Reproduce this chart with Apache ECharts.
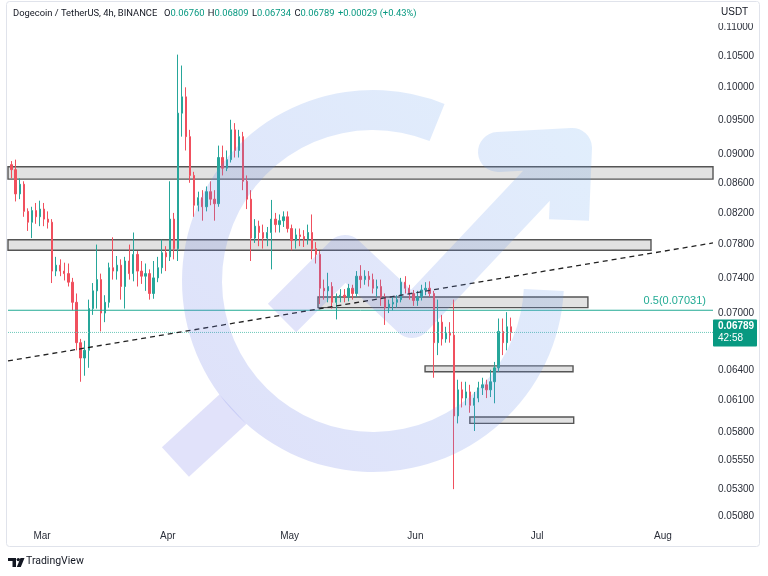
<!DOCTYPE html>
<html><head><meta charset="utf-8">
<script src="https://cdn.jsdelivr.net/npm/echarts@6/dist/echarts.min.js"></script>
<style>html,body{margin:0;padding:0;background:#fff}#c{width:768px;height:576px}</style>
</head><body><div id="c"></div>
<script>
// ---- data (daily candles) ----
const dates = [
'2023-02-21','2023-02-22','2023-02-23','2023-02-24','2023-02-25','2023-02-26','2023-02-27','2023-02-28',
'2023-03-01','2023-03-02','2023-03-03','2023-03-04','2023-03-05','2023-03-06','2023-03-07','2023-03-08','2023-03-09','2023-03-10',
'2023-03-11','2023-03-12','2023-03-13','2023-03-14','2023-03-15','2023-03-16','2023-03-17','2023-03-18','2023-03-19','2023-03-20',
'2023-03-21','2023-03-22','2023-03-23','2023-03-24','2023-03-25','2023-03-26','2023-03-27','2023-03-28','2023-03-29','2023-03-30','2023-03-31',
'2023-04-01','2023-04-02','2023-04-03','2023-04-04','2023-04-05','2023-04-06','2023-04-07','2023-04-08','2023-04-09','2023-04-10',
'2023-04-11','2023-04-12','2023-04-13','2023-04-14','2023-04-15','2023-04-16','2023-04-17','2023-04-18','2023-04-19','2023-04-20',
'2023-04-21','2023-04-22','2023-04-23','2023-04-24','2023-04-25','2023-04-26','2023-04-27','2023-04-28','2023-04-29','2023-04-30',
'2023-05-01','2023-05-02','2023-05-03','2023-05-04','2023-05-05','2023-05-06','2023-05-07','2023-05-08','2023-05-09','2023-05-10',
'2023-05-11','2023-05-12','2023-05-13','2023-05-14','2023-05-15','2023-05-16','2023-05-17','2023-05-18','2023-05-19','2023-05-20',
'2023-05-21','2023-05-22','2023-05-23','2023-05-24','2023-05-25','2023-05-26','2023-05-27','2023-05-28','2023-05-29','2023-05-30','2023-05-31',
'2023-06-01','2023-06-02','2023-06-03','2023-06-04','2023-06-05','2023-06-06','2023-06-07','2023-06-08','2023-06-09','2023-06-10',
'2023-06-11','2023-06-12','2023-06-13','2023-06-14','2023-06-15','2023-06-16','2023-06-17','2023-06-18','2023-06-19','2023-06-20',
'2023-06-21','2023-06-22','2023-06-23','2023-06-24'];
const open = [
.0885,.0878,.0845,.0858,.0822,.0808,.0823,.0815,
.0825,.0812,.0808,.0748,.0755,.0748,.0745,.0735,.0712,.0668,
.0652,.0660,.0705,.0725,.0738,.0700,.0712,.0752,.0748,.0755,
.0730,.0760,.0745,.0768,.0748,.0742,.0745,.0722,.0740,.0752,.0770,
.0765,.0812,.0775,.0960,.0985,.0925,.0870,.0830,.0840,.0828,
.0848,.0838,.0832,.0895,.0880,.0892,.0935,.0905,.0925,.0862,
.0838,.0788,.0803,.0795,.0788,.0795,.0812,.0805,.0810,.0815,
.0800,.0785,.0792,.0790,.0787,.0795,.0775,.0768,.0728,.0725,
.0730,.0712,.0718,.0720,.0718,.0728,.0722,.0742,.0738,.0742,
.0738,.0728,.0730,.0718,.0706,.0710,.0712,.0715,.0735,.0728,.0722,
.0714,.0718,.0726,.0728,.0722,.0668,.0690,.0672,.0678,.0676,
.0595,.0620,.0612,.0618,.0605,.0612,.0622,.0625,.0620,.0628,
.0642,.0680,.0668,.0685];
const close = [
.0878,.0845,.0858,.0822,.0808,.0823,.0815,.0825,
.0812,.0808,.0748,.0755,.0748,.0745,.0735,.0712,.0668,.0652,
.0660,.0705,.0725,.0738,.0700,.0712,.0752,.0748,.0755,.0730,
.0760,.0745,.0768,.0748,.0742,.0745,.0722,.0740,.0752,.0770,.0765,
.0812,.0775,.0960,.0985,.0925,.0870,.0830,.0840,.0828,.0848,
.0838,.0832,.0895,.0880,.0892,.0935,.0905,.0925,.0862,.0838,
.0788,.0803,.0795,.0788,.0795,.0812,.0805,.0810,.0815,.0800,
.0785,.0792,.0790,.0787,.0795,.0775,.0768,.0728,.0725,.0730,
.0712,.0718,.0720,.0718,.0728,.0722,.0742,.0738,.0742,.0738,
.0728,.0730,.0718,.0706,.0710,.0712,.0715,.0735,.0728,.0722,.0714,
.0718,.0726,.0728,.0722,.0668,.0690,.0672,.0678,.0676,.0595,
.0620,.0612,.0618,.0605,.0612,.0622,.0625,.0620,.0628,.0642,
.0680,.0668,.0685,.06789];
const low = [
.0866,.0835,.0838,.0815,.0797,.0788,.0806,.0803,
.0803,.0800,.0734,.0742,.0742,.0737,.0730,.0703,.0660,.0628,
.0634,.0642,.0698,.0705,.0680,.0690,.0706,.0738,.0738,.0715,
.0705,.0738,.0736,.0730,.0733,.0725,.0715,.0716,.0735,.0745,.0748,
.0760,.0762,.0760,.0925,.0905,.0860,.0815,.0822,.0810,.0822,
.0830,.0810,.0828,.0870,.0876,.0888,.0895,.0895,.0850,.0825,
.0760,.0782,.0778,.0775,.0778,.0750,.0795,.0795,.0802,.0795,
.0773,.0775,.0778,.0777,.0780,.0762,.0757,.0710,.0715,.0712,
.0705,.0693,.0712,.0712,.0713,.0715,.0718,.0728,.0732,.0730,
.0722,.0718,.0708,.0687,.0700,.0703,.0706,.0712,.0722,.0715,.0708,
.0708,.0714,.0720,.0718,.0632,.0655,.0665,.0668,.0668,.0530,
.0588,.0603,.0605,.0598,.0581,.0608,.0615,.0612,.0613,.0607,
.0638,.0655,.0660,.0670];
const high = [
.0890,.0892,.0866,.0862,.0826,.0828,.0833,.0836,
.0833,.0822,.0812,.0765,.0762,.0758,.0757,.0740,.0722,.0672,
.0670,.0715,.0734,.0780,.0745,.0720,.0758,.0789,.0766,.0762,
.0765,.0780,.0795,.0772,.0760,.0757,.0750,.0760,.0765,.0786,.0778,
.0862,.0820,.1053,.1035,.1000,.0935,.0875,.0848,.0850,.0855,
.0862,.0850,.0912,.0912,.0905,.0950,.0945,.0935,.0932,.0870,
.0850,.0812,.0810,.0805,.0802,.0837,.0820,.0818,.0822,.0822,
.0805,.0800,.0800,.0798,.0805,.0818,.0783,.0772,.0738,.0746,
.0735,.0722,.0727,.0727,.0733,.0732,.0748,.0755,.0749,.0748,
.0745,.0738,.0738,.0722,.0715,.0718,.0720,.0740,.0742,.0732,.0726,
.0725,.0732,.0735,.0736,.0725,.0715,.0698,.0685,.0690,.0715,
.0630,.0628,.0628,.0625,.0618,.0628,.0632,.0630,.0640,.0648,
.0694,.0694,.0701,.0695];
const priceTicks = [0.11,0.105,0.10,0.095,0.09,0.086,0.082,0.078,0.074,0.07,0.064,0.061,0.058,0.0555,0.053,0.0508];
const monthTicks = ['2023-03-01','2023-04-01','2023-05-01','2023-06-01','2023-07-01','2023-08-01'];
const monthNames = ['Jan','Feb','Mar','Apr','May','Jun','Jul','Aug','Sep','Oct','Nov','Dec'];
// zones: [startDate, endDate, lowPrice, highPrice]
const zones = [
 ['2023-02-20T15:00','2023-08-13T07:40',0.0865,0.0882],
 ['2023-02-20T15:00','2023-07-29T01:00',0.0773,0.0786],
 ['2023-05-08T00:00','2023-07-13T12:00',0.0706,0.0718],
 ['2023-06-03T09:00','2023-07-09T20:00',0.0638,0.0644],
 ['2023-06-14T10:00','2023-07-10T00:00',0.0588,0.0594]
];
const trendLine = [['2023-02-20T15:00',0.0649],['2023-08-13T07:40',0.0782]];
const fibLevel = 0.07031;
const lastPrice = 0.06789;
const header = {name:'Dogecoin / TetherUS, 4h, BINANCE', o:'0.06760', h:'0.06809', l:'0.06734', c:'0.06789', chg:'+0.00029 (+0.43%)'};

// ---- chart ----
const L = Math.log;
const T = s => Date.parse(s + (s.length===10 ? 'T12:00:00Z' : ':00Z'));
const candles = dates.map((d,i)=>[T(d), L(open[i]), L(close[i]), L(low[i]), L(high[i])]);
const xMin = Date.UTC(2023,1,20,15,0), xMax = Date.UTC(2023,7,13,7,40);
const UP='#26a69a', DN='#f0505e', TEAL='#22ab94';

const chart = echarts.init(document.getElementById('c'), null, {renderer:'canvas'});
chart.setOption({
  animation:false,
  backgroundColor:'#ffffff',
  grid:{left:8, right:55, top:20, bottom:52},
  xAxis:{type:'value', min:xMin, max:xMax,
    axisLine:{show:false}, axisTick:{show:false}, splitLine:{show:false},
    axisLabel:{customValues:monthTicks.map(m=>Date.parse(m+'T00:00:00Z')), margin:7,
      color:'#2a2e39', fontSize:10, fontFamily:'Liberation Sans',
      formatter:v=>monthNames[new Date(v).getUTCMonth()]}},
  yAxis:{type:'value', position:'right', min:L(0.05016), max:L(0.11122), scale:true,
    axisLine:{show:false}, axisTick:{show:false}, splitLine:{show:false},
    axisLabel:{customValues:priceTicks.map(L), margin:5, color:'#2a2e39', fontSize:10, fontFamily:'Liberation Sans',
      formatter:v=>Math.exp(v).toFixed(5)}},
  series:[
  {
    type:'line', data:[[xMin, L(fibLevel)], [xMax, L(fibLevel)]], showSymbol:false, symbol:'none', silent:true, z:3,
    lineStyle:{color:TEAL, width:1, type:'solid'}, itemStyle:{color:TEAL}
  },
  {
    type:'line', data:[[xMin, L(lastPrice)], [xMax, L(lastPrice)]], showSymbol:false, symbol:'none', silent:true, z:3,
    lineStyle:{color:'#6cc9ba', width:1, type:'dotted'}, itemStyle:{color:'#6cc9ba'}
  },
  {
    type:'line', data:trendLine.map(p=>[T(p[0]), L(p[1])]), showSymbol:false, symbol:'none', silent:true, z:4,
    lineStyle:{color:'#222', width:1.3, type:[5,4]}, itemStyle:{color:'#222'}
  },
  {
    type:'candlestick', data:candles, barWidth:1.8, z:2,
    itemStyle:{color:UP, color0:DN, borderColor:UP, borderColor0:DN, borderWidth:1},
    markArea:{silent:true,
      itemStyle:{color:'rgba(185,185,185,0.42)', borderColor:'#555', borderWidth:1.4},
      data:zones.map(z=>[{coord:[T(z[0]), L(z[3])]},{coord:[T(z[1]), L(z[2])]}])}
  }]
});

// ---- decorations ----
const cx=373, cy=281;
const lav='rgba(105,112,228,0.22)', blu='rgba(95,165,240,0.19)';
const hA=137.5*Math.PI/180, dx=Math.cos(hA), dy=Math.sin(hA), px=-dy, py=dx;
const hp=(r,s)=>[cx+dx*r+px*20*s, cy+dy*r+py*20*s];
const py0 = chart.convertToPixel({yAxisIndex:0}, L(lastPrice));
const pyF = chart.convertToPixel({yAxisIndex:0}, L(fibLevel));
const grad=(c1,c2)=>({type:'linear',x:0,y:1,x2:1,y2:0,colorStops:[{offset:0,color:c1},{offset:1,color:c2}]});
chart.setOption({graphic:[
  {type:'sector', z:100, silent:true, shape:{cx:cx, cy:cy, r:191, r0:151, startAngle:3*Math.PI/180, endAngle:292*Math.PI/180, clockwise:true},
    style:{fill:grad(lav, blu)}},
  {type:'polygon', z:100, silent:true, shape:{points:[hp(190,1),hp(268,1),hp(268,-1),hp(190,-1)]}, style:{fill:'rgba(105,112,228,0.2)'}},
  {type:'polyline', z:100, silent:true, shape:{points:[[282,318],[345,255],[412,318],[572,148],[498,152],[572,148],[569,220]]},
    style:{stroke:grad('rgba(105,112,228,0.2)', blu), lineWidth:40, lineJoin:'round', lineCap:'butt', fill:null}},
  {type:'text', z:105, x:706, y:pyF-4, style:{text:'0.5(' + fibLevel.toFixed(5) + ')', fill:TEAL, font:'11px "Liberation Sans"', align:'right', verticalAlign:'bottom'}},
  {type:'rect', z:110, shape:{x:714, y:2, width:44, height:21}, style:{fill:'#fff'}},
  {type:'text', z:111, x:721, y:7, style:{text:'USDT', fill:'#131722', font:'10px "Liberation Sans"'}},
  {type:'rect', z:110, shape:{x:713, y:py0-13, width:44, height:27, r:1}, style:{fill:'#089981'}},
  {type:'text', z:111, x:718, y:py0-11, style:{text:lastPrice.toFixed(5), fill:'#fff', font:'bold 10px "Liberation Sans"'}},
  {type:'text', z:111, x:718, y:py0+1, style:{text:'42:58', fill:'#fff', font:'10px "Liberation Sans"'}},
  {type:'text', z:111, x:13, y:8, style:{
    text:'{t|'+header.name+'}  {k|O}{v|'+header.o+'} {k|H}{v|'+header.h+'} {k|L}{v|'+header.l+'} {k|C}{v|'+header.c+'} {v|'+header.chg+'}',
    rich:{t:{fill:'#131722', fontSize:9.4, fontFamily:'Roboto'}, k:{fill:'#131722', fontSize:9.4, fontFamily:'Roboto'}, v:{fill:'#089981', fontSize:9.4, fontFamily:'Roboto'}}}},
  {type:'rect', z:1, shape:{x:6.5, y:1.5, width:753, height:545, r:3}, style:{fill:null, stroke:'#e0e3eb', lineWidth:1}},
  {type:'polygon', z:111, shape:{points:[[8,558],[16,558],[16,567],[12.5,567],[12.5,561],[8,561]]}, style:{fill:'#131722'}},
  {type:'circle', z:111, shape:{cx:18.3, cy:559.6, r:1.7}, style:{fill:'#131722'}},
  {type:'polygon', z:111, shape:{points:[[20.5,558],[24.5,558],[20.8,567],[16.8,567]]}, style:{fill:'#131722'}},
  {type:'text', z:111, x:26, y:556, style:{text:'TradingView', fill:'#131722', font:'10.5px Roboto'}}
]});
</script></body></html>
